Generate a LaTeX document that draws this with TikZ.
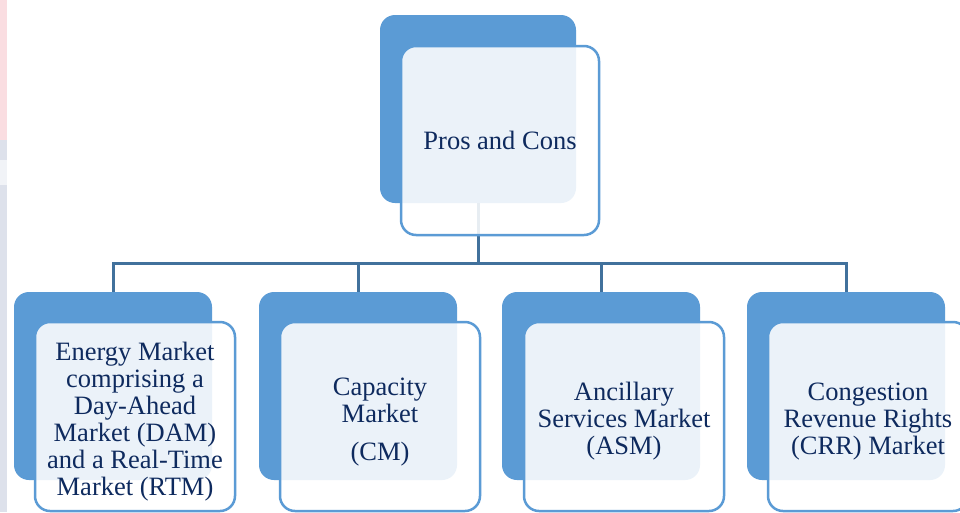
\documentclass[tikz,border=0pt]{standalone}
\usepackage{fontspec}
\setmainfont{Liberation Serif}
\definecolor{backblue}{HTML}{5B9BD5}
\definecolor{edgeblue}{HTML}{5B9BD5}
\definecolor{linkblue}{HTML}{41719C}
\definecolor{txtblue}{HTML}{0E2A5E}
\definecolor{stripPink}{HTML}{FADDE1}
\definecolor{stripGray}{HTML}{DDE1EB}
\begin{document}
\begin{tikzpicture}[x=1pt,y=-1pt,
  backbox/.style={rectangle,fill=backblue,rounded corners=15pt,inner sep=0pt,minimum width=198pt,minimum height=188pt},
  frontbox/.style={rectangle,draw=edgeblue,line width=2.5pt,fill=white,fill opacity=0.88,rounded corners=15pt,inner sep=0pt,minimum width=200pt,minimum height=189pt},
  label/.style={text=txtblue,align=center,font=\fontsize{26.5}{27}\selectfont,inner sep=0pt},
  link/.style={draw=linkblue,line width=3pt}]
\useasboundingbox (0,0) rectangle (960,512);
\fill[white] (0,0) rectangle (960,512);
% faint left-edge strip
\fill[stripPink] (0,0) rectangle (7,140);
\fill[stripGray] (0,140) rectangle (7,160);
\fill[stripGray!40] (0,160) rectangle (7,185);
\fill[stripGray] (0,185) rectangle (7,512);
% back boxes
\node[backbox,minimum width=196pt] (tb) at (478,109) {};
\node[backbox] (b1) at (113,386) {};
\node[backbox] (b2) at (358,386) {};
\node[backbox] (b3) at (601,386) {};
\node[backbox] (b4) at (846,386) {};
% connectors
\coordinate (bus) at (478,263);
\draw[link] (tb.south) -- (bus);
\draw[link] (b1.north) -- (b1.north |- bus) -- (b4.north |- bus) -- (b4.north);
\draw[link] (b2.north) -- (b2.north |- bus);
\draw[link] (b3.north) -- (b3.north |- bus);
% front boxes
\node[frontbox,minimum width=198pt] (tf) at (500,140.5) {};
\node[frontbox] (f1) at (135,416.5) {};
\node[frontbox] (f2) at (380,416.5) {};
\node[frontbox] (f3) at (624,416.5) {};
\node[frontbox] (f4) at (868,416.5) {};
% texts
\node[label] (tt) at (tf.center) {Pros and Cons};
\node[label] (t1) at ([yshift=-5pt]f1.center) {Energy Market\\comprising a\\Day-Ahead\\Market (DAM)\\and a Real-Time\\Market (RTM)};
\node[label] (t2) at ([yshift=-6pt]f2.center) {Capacity\\Market\\[11pt](CM)};
\node[label] (t3) at ([yshift=-5pt]f3.center) {Ancillary\\Services Market\\(ASM)};
\node[label] (t4) at ([yshift=-5pt]f4.center) {Congestion\\Revenue Rights\\(CRR) Market};
\end{tikzpicture}
\end{document}
